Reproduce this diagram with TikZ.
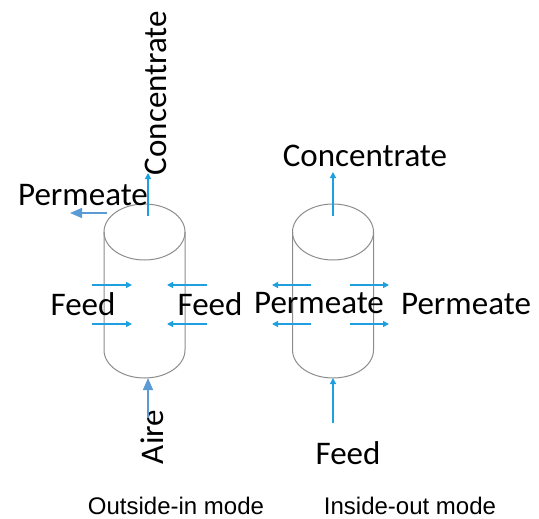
\documentclass[tikz,border=0pt]{standalone}
\usepackage{fontspec}
\setmainfont{Carlito}
\newfontfamily\captionfont{Liberation Sans}
\usepackage{xcolor}
\usepackage{tikz}
\usetikzlibrary{arrows.meta, positioning, calc}
\definecolor{flowblue}{HTML}{1E9FE0}
\definecolor{pipeblue}{HTML}{5B9BD5}
\definecolor{shellgray}{HTML}{8C8C8C}
\tikzset{
  label/.style={font=\fontsize{33}{38}\selectfont, inner sep=0pt},
  modecap/.style={font=\captionfont\fontsize{24}{28}\selectfont, inner sep=0pt},
  shell/.style={draw=shellgray, line width=1pt},
  flow/.style={-{Triangle[length=6pt, width=6pt]}, flowblue, line width=1.2pt},
  pipe/.style={-{Triangle[length=12pt, width=10pt]}, pipeblue, line width=1.4pt}
}
\newcommand{\vessel}[2]{%
  \begin{scope}[shift={(#1,-232)}]
    \draw[shell] (0,0) ellipse [x radius=40.5, y radius=28];
    \draw[shell] (-40.5,0) -- (-40.5,-118) arc [start angle=180, end angle=360, x radius=40.5, y radius=28] -- (40.5,0);
    \coordinate (#2-top) at (0,16);
    \coordinate (#2-bot) at (0,-146);
  \end{scope}
}

\begin{document}
\begin{tikzpicture}[x=1pt, y=1pt]
    \useasboundingbox (0,0) rectangle (539,-519);

    % Vessels
    \vessel{144.5}{oi}
    \vessel{333}{io}

    % Outside-in side
    \node[label, rotate=90] (oiconc) at (156,-93) {Concentrate};
    \node[label] (oiperm) at (83,-195) {Permeate};
    \node[label] (oifeedl) at (83,-304) {Feed};
    \node[label] (oifeedr) at (210,-304) {Feed};
    \node[label, rotate=90] (oiair) at (152,-437) {Aire};
    \coordinate (oiconcend) at (148,-173);
    \coordinate (oipermstart) at (107,-213);
    \coordinate (oipermend) at (70,-213);
    \coordinate (oiairstart) at (148,-418);
    \coordinate (oilu) at (92,-285);  \coordinate (oilui) at (132,-285);
    \coordinate (oild) at (92,-324);  \coordinate (oildi) at (132,-324);
    \coordinate (oiru) at (207,-285); \coordinate (oirui) at (167,-285);
    \coordinate (oird) at (207,-324); \coordinate (oirdi) at (167,-324);

    \draw[flow] ($(oi-top)+(3.5,0)$) -- (oiconcend);
    \draw[pipe] (oipermstart) -- (oipermend);
    \draw[flow] (oilu) -- (oilui);
    \draw[flow] (oild) -- (oildi);
    \draw[flow] (oiru) -- (oirui);
    \draw[flow] (oird) -- (oirdi);
    \draw[pipe] (oiairstart) -- ($(oi-bot)+(3.5,0)$);

    % Inside-out side
    \node[label] (ioconc) at (365,-156) {Concentrate};
    \node[label] (iopermL) at (319,-303) {Permeate};
    \node[label] (iopermR) at (466,-304) {Permeate};
    \node[label] (iofeed) at (348,-453) {Feed};
    \coordinate (ioconcend) at (333,-172);
    \coordinate (iofeedstart) at (333,-423);
    \coordinate (iolu) at (272,-285); \coordinate (iolui) at (311,-285);
    \coordinate (iold) at (272,-324); \coordinate (ioldi) at (311,-324);
    \coordinate (ioru) at (389,-285); \coordinate (iorui) at (350,-285);
    \coordinate (iord) at (389,-324); \coordinate (iordi) at (350,-324);

    \draw[flow] (io-top) -- (ioconcend);
    \draw[flow] (iolui) -- (iolu);
    \draw[flow] (ioldi) -- (iold);
    \draw[flow] (iorui) -- (ioru);
    \draw[flow] (iordi) -- (iord);
    \draw[flow] (iofeedstart) -- (io-bot);

    % Captions
    \node[modecap] (oimode) at (176,-506) {Outside-in mode};
    \node[modecap] (iomode) at (410,-506) {Inside-out mode};
\end{tikzpicture}
\end{document}
